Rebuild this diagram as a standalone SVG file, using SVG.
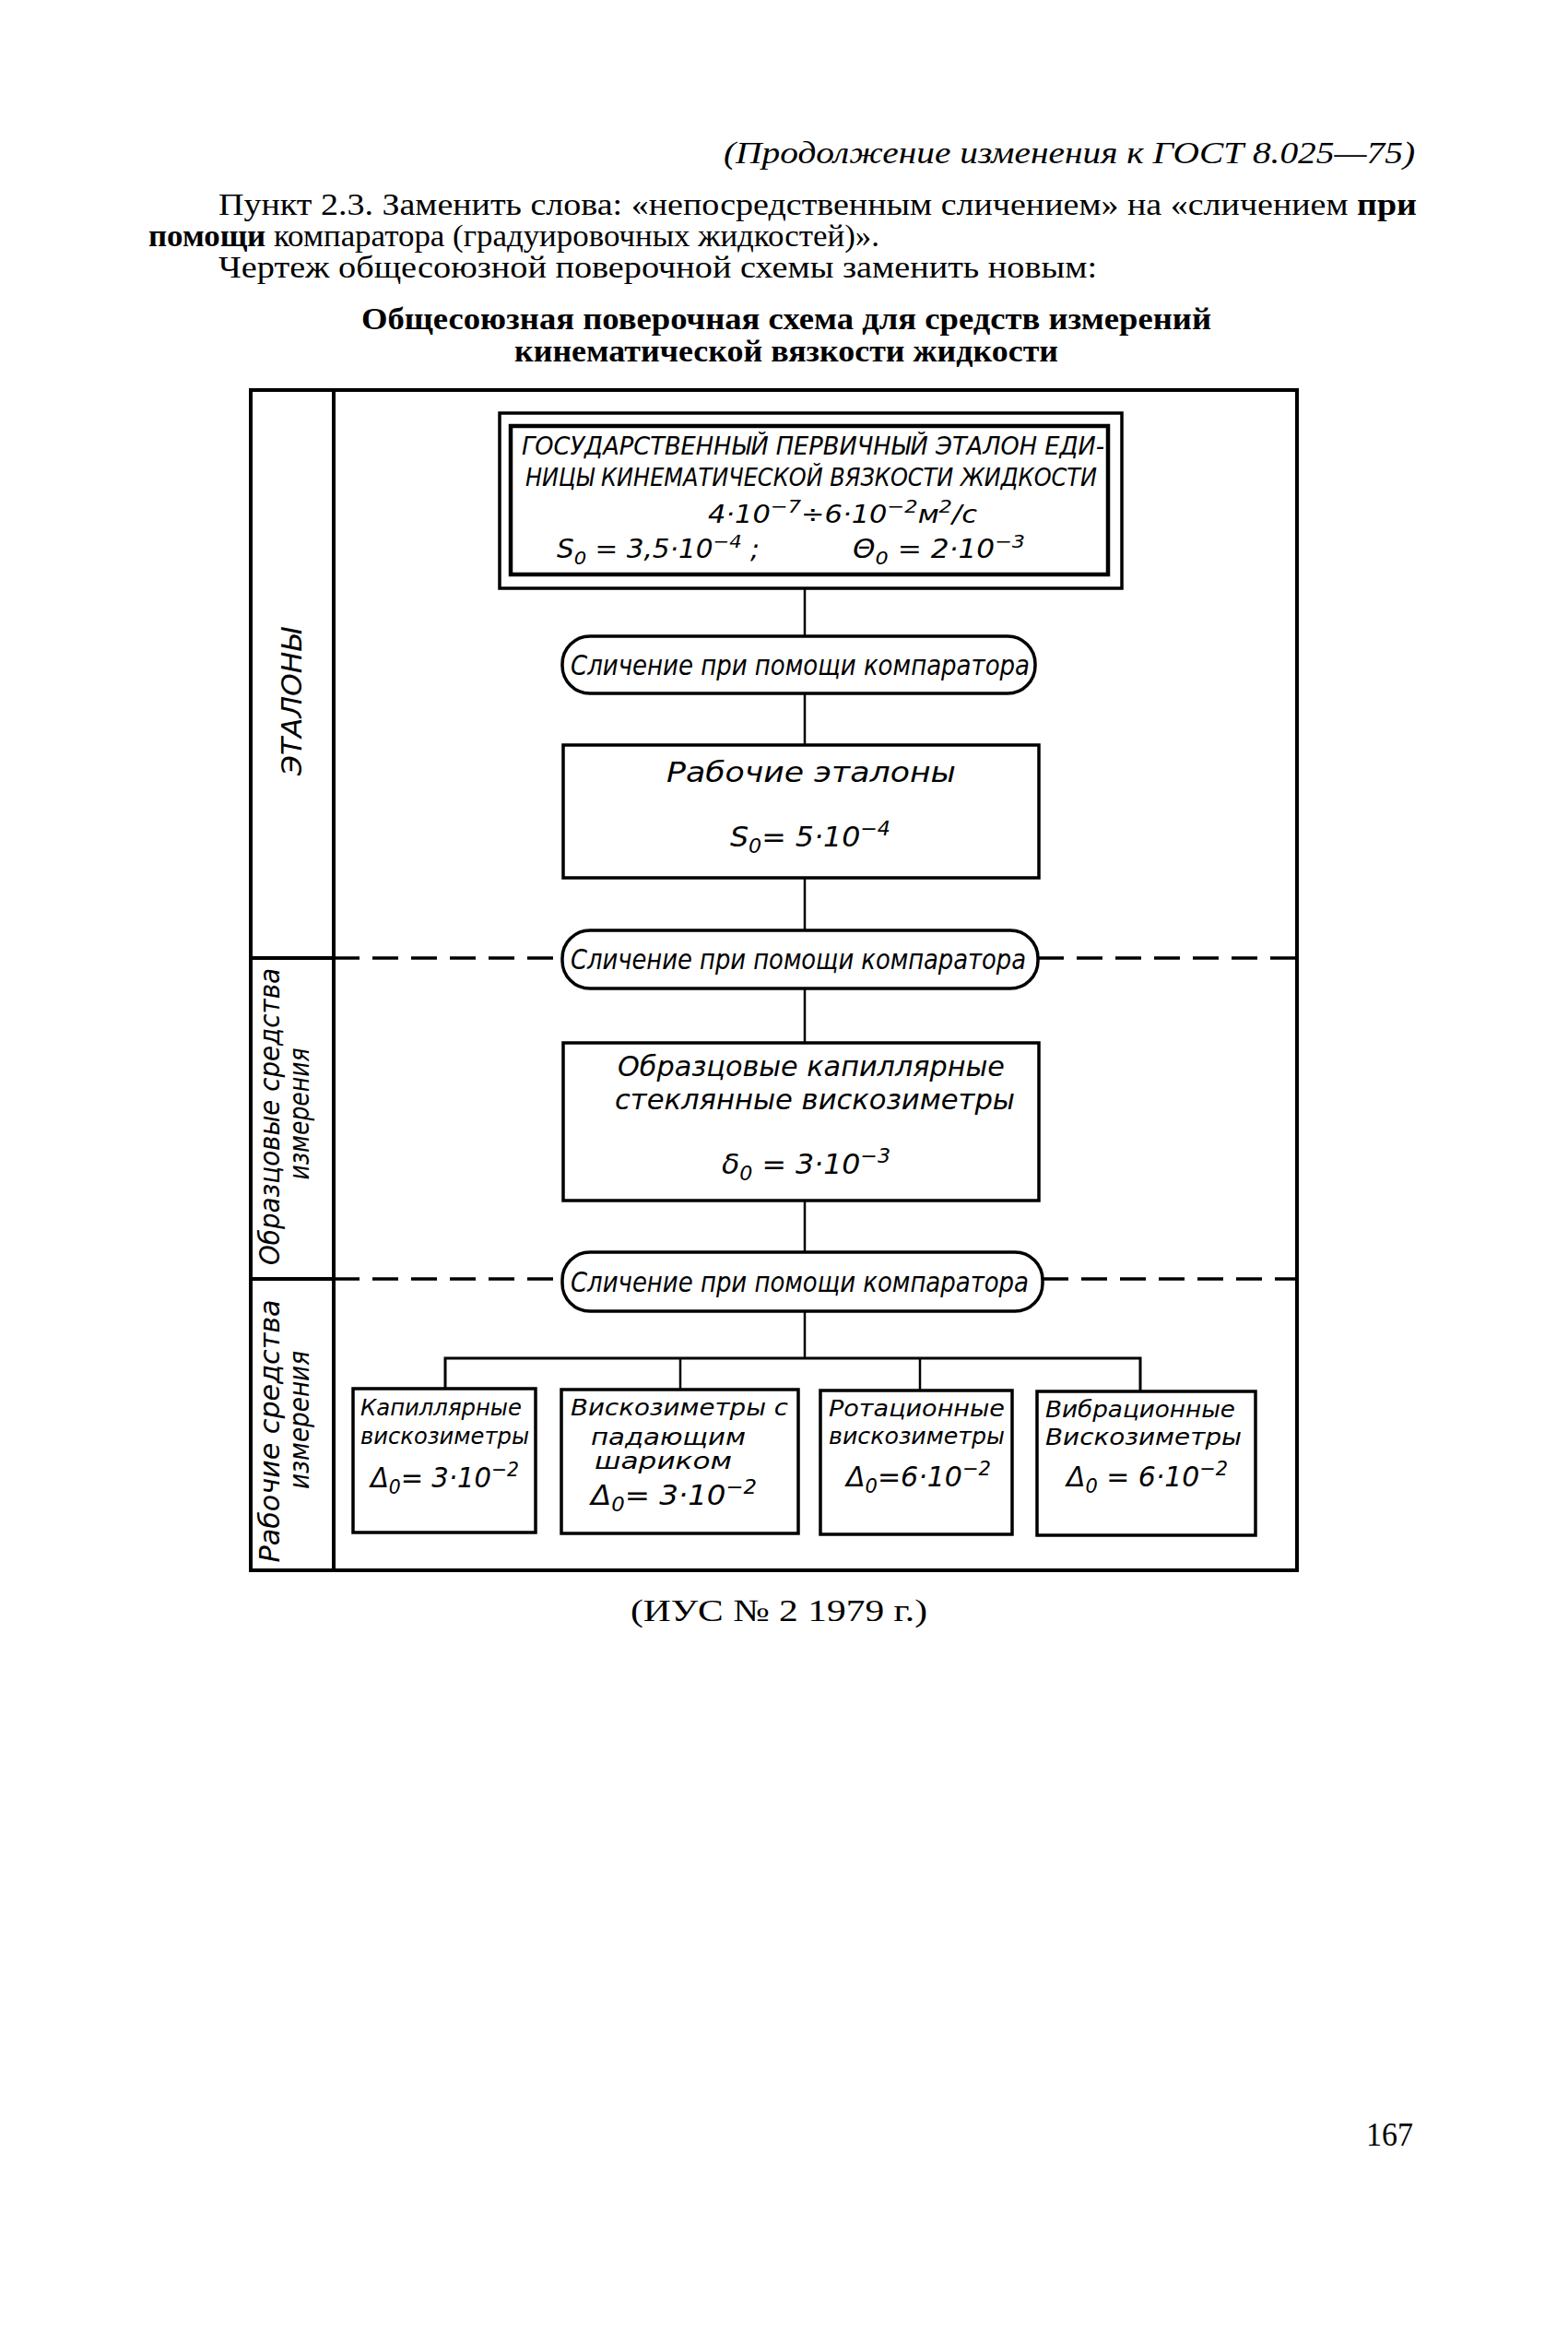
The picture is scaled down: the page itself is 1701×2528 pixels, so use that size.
<svg xmlns="http://www.w3.org/2000/svg" width="1701" height="2528" viewBox="0 0 1701 2528">
<style>
.bg{fill:#fff}
.d{font-family:"DejaVu Sans Condensed","DejaVu Sans",sans-serif;font-style:italic;fill:#000}
.s{font-family:"Liberation Serif","Times New Roman",serif;fill:#000}
.box{fill:#fff;stroke:#000;stroke-width:3.5}
.ln{fill:none;stroke:#000;stroke-width:2.5}
.fr{fill:none;stroke:#000;stroke-width:4}
.dash{fill:none;stroke:#000;stroke-width:3.5;stroke-dasharray:28 14}
</style>
<rect class="bg" x="0" y="0" width="1701" height="2528"/>

<g id="page-text">
<text class="s" x="785" y="177" font-size="34" font-style="italic" textLength="750" lengthAdjust="spacingAndGlyphs">(Продолжение изменения к ГОСТ 8.025—75)</text>
<text class="s" x="237" y="233" font-size="33" textLength="1300" lengthAdjust="spacingAndGlyphs">Пункт 2.3. Заменить слова: «непосредственным сличением» на «сличением <tspan font-weight="bold">при</tspan></text>
<text class="s" x="161" y="267" font-size="33" textLength="793" lengthAdjust="spacingAndGlyphs"><tspan font-weight="bold">помощи</tspan> компаратора (градуировочных жидкостей)».</text>
<text class="s" x="237" y="301" font-size="33" textLength="953" lengthAdjust="spacingAndGlyphs">Чертеж общесоюзной поверочной схемы заменить новым:</text>
<text class="s" x="392" y="357" font-size="34" font-weight="bold" textLength="922" lengthAdjust="spacingAndGlyphs">Общесоюзная поверочная схема для средств измерений</text>
<text class="s" x="558" y="392" font-size="34" font-weight="bold" textLength="590" lengthAdjust="spacingAndGlyphs">кинематической вязкости жидкости</text>
<text class="s" x="684" y="1758" font-size="34" textLength="322" lengthAdjust="spacingAndGlyphs">(ИУС № 2 1979 г.)</text>
<text class="s" x="1482" y="2327" font-size="36" textLength="51" lengthAdjust="spacingAndGlyphs">167</text>
</g>

<g id="frame">
<rect class="fr" x="272" y="423" width="1135" height="1280"/>
<line class="fr" x1="362" y1="423" x2="362" y2="1703"/>
<line class="fr" x1="272" y1="1039" x2="362" y2="1039"/>
<line class="fr" x1="272" y1="1387" x2="362" y2="1387"/>
<text class="d" transform="translate(327,761) rotate(-90)" text-anchor="middle" font-size="31" textLength="160" lengthAdjust="spacingAndGlyphs">ЭТАЛОНЫ</text>
<text class="d" transform="translate(303,1211) rotate(-90)" text-anchor="middle" font-size="30" textLength="322" lengthAdjust="spacingAndGlyphs">Образцовые средства</text>
<text class="d" transform="translate(335,1208) rotate(-90)" text-anchor="middle" font-size="30" textLength="143" lengthAdjust="spacingAndGlyphs">измерения</text>
<text class="d" transform="translate(303,1552) rotate(-90)" text-anchor="middle" font-size="30" textLength="285" lengthAdjust="spacingAndGlyphs">Рабочие средства</text>
<text class="d" transform="translate(335,1540) rotate(-90)" text-anchor="middle" font-size="30" textLength="150" lengthAdjust="spacingAndGlyphs">измерения</text>
</g>

<g id="connectors">
<line class="ln" x1="873" y1="638" x2="873" y2="690"/>
<line class="ln" x1="873" y1="752" x2="873" y2="808"/>
<line class="ln" x1="873" y1="952" x2="873" y2="1009"/>
<line class="ln" x1="873" y1="1072" x2="873" y2="1131"/>
<line class="ln" x1="873" y1="1302" x2="873" y2="1358"/>
<line class="ln" x1="873" y1="1422" x2="873" y2="1473"/>
<polyline class="ln" points="483,1506 483,1473 1237,1473 1237,1509" style="stroke-width:3"/>
<line class="ln" x1="738" y1="1473" x2="738" y2="1507"/>
<line class="ln" x1="998" y1="1473" x2="998" y2="1508"/>
<line class="dash" x1="362" y1="1039" x2="610" y2="1039"/>
<line class="dash" x1="1126" y1="1039" x2="1407" y2="1039"/>
<line class="dash" x1="362" y1="1387" x2="610" y2="1387"/>
<line class="dash" x1="1131" y1="1387" x2="1407" y2="1387"/>
</g>

<g id="node-primary">
<rect class="box" x="542" y="448" width="675" height="190"/>
<rect class="box" x="554" y="462" width="648" height="161" style="stroke-width:4.5"/>
<text class="d" x="566" y="493" font-size="27" textLength="632" lengthAdjust="spacingAndGlyphs">ГОСУДАРСТВЕННЫЙ ПЕРВИЧНЫЙ ЭТАЛОН ЕДИ-</text>
<text class="d" x="570" y="527" font-size="27" textLength="620" lengthAdjust="spacingAndGlyphs">НИЦЫ КИНЕМАТИЧЕСКОЙ ВЯЗКОСТИ ЖИДКОСТИ</text>
<text class="d" x="768" y="567" font-size="27" textLength="292" lengthAdjust="spacingAndGlyphs">4·10<tspan dy="-11" font-size="20">−7</tspan><tspan dy="11">÷6·10</tspan><tspan dy="-11" font-size="20">−2</tspan><tspan dy="11">м</tspan><tspan dy="-11" font-size="20">2</tspan><tspan dy="11">/с</tspan></text>
<text class="d" x="604" y="605" font-size="28" textLength="220" lengthAdjust="spacingAndGlyphs">S<tspan dy="7" font-size="20">0</tspan><tspan dy="-7"> = 3,5·10</tspan><tspan dy="-11" font-size="20">−4</tspan><tspan dy="11"> ;</tspan></text>
<text class="d" x="925" y="605" font-size="28" textLength="187" lengthAdjust="spacingAndGlyphs">Θ<tspan dy="7" font-size="20">0</tspan><tspan dy="-7"> = 2·10</tspan><tspan dy="-11" font-size="20">−3</tspan></text>
</g>

<g id="node-compare-1">
<rect class="box" x="610" y="690" width="513" height="62" rx="30" ry="30"/>
<text class="d" x="619" y="732" font-size="31" textLength="498" lengthAdjust="spacingAndGlyphs">Сличение при помощи компаратора</text>
</g>

<g id="node-working-standards">
<rect class="box" x="611" y="808" width="516" height="144"/>
<text class="d" x="723" y="848" font-size="30" textLength="314" lengthAdjust="spacingAndGlyphs">Рабочие   эталоны</text>
<text class="d" x="792" y="918" font-size="30" textLength="174" lengthAdjust="spacingAndGlyphs">S<tspan dy="7" font-size="21">0</tspan><tspan dy="-7">= 5·10</tspan><tspan dy="-12" font-size="21">−4</tspan></text>
</g>

<g id="node-compare-2">
<rect class="box" x="610" y="1009" width="516" height="63" rx="30" ry="30"/>
<text class="d" x="619" y="1051" font-size="31" textLength="494" lengthAdjust="spacingAndGlyphs">Сличение при помощи компаратора</text>
</g>

<g id="node-reference-viscometers">
<rect class="box" x="611" y="1131" width="516" height="171"/>
<text class="d" x="670" y="1167" font-size="30" textLength="420" lengthAdjust="spacingAndGlyphs">Образцовые  капиллярные</text>
<text class="d" x="667" y="1203" font-size="30" textLength="434" lengthAdjust="spacingAndGlyphs">стеклянные вискозиметры</text>
<text class="d" x="783" y="1273" font-size="30" textLength="183" lengthAdjust="spacingAndGlyphs">δ<tspan dy="7" font-size="21">0</tspan><tspan dy="-7"> = 3·10</tspan><tspan dy="-12" font-size="21">−3</tspan></text>
</g>

<g id="node-compare-3">
<rect class="box" x="610" y="1358" width="521" height="64" rx="30" ry="30"/>
<text class="d" x="619" y="1401" font-size="31" textLength="497" lengthAdjust="spacingAndGlyphs">Сличение при помощи компаратора</text>
</g>

<g id="node-capillary">
<rect class="box" x="383" y="1506" width="198" height="156"/>
<text class="d" x="391" y="1535" font-size="25" textLength="175" lengthAdjust="spacingAndGlyphs">Капиллярные</text>
<text class="d" x="391" y="1566" font-size="25" textLength="183" lengthAdjust="spacingAndGlyphs">вискозиметры</text>
<text class="d" x="402" y="1613" font-size="30" textLength="161" lengthAdjust="spacingAndGlyphs">Δ<tspan dy="7" font-size="21">0</tspan><tspan dy="-7">= 3·10</tspan><tspan dy="-12" font-size="21">−2</tspan></text>
</g>

<g id="node-falling-ball">
<rect class="box" x="609" y="1507" width="257" height="156"/>
<text class="d" x="619" y="1535" font-size="25" textLength="236" lengthAdjust="spacingAndGlyphs">Вискозиметры с</text>
<text class="d" x="641" y="1567" font-size="25" textLength="168" lengthAdjust="spacingAndGlyphs">падающим</text>
<text class="d" x="645" y="1593" font-size="25" textLength="149" lengthAdjust="spacingAndGlyphs">шариком</text>
<text class="d" x="641" y="1632" font-size="30" textLength="180" lengthAdjust="spacingAndGlyphs">Δ<tspan dy="7" font-size="21">0</tspan><tspan dy="-7">= 3·10</tspan><tspan dy="-12" font-size="21">−2</tspan></text>
</g>

<g id="node-rotational">
<rect class="box" x="890" y="1508" width="208" height="156"/>
<text class="d" x="899" y="1536" font-size="25" textLength="191" lengthAdjust="spacingAndGlyphs">Ротационные</text>
<text class="d" x="899" y="1566" font-size="25" textLength="191" lengthAdjust="spacingAndGlyphs">вискозиметры</text>
<text class="d" x="918" y="1612" font-size="30" textLength="157" lengthAdjust="spacingAndGlyphs">Δ<tspan dy="7" font-size="21">0</tspan><tspan dy="-7">=6·10</tspan><tspan dy="-12" font-size="21">−2</tspan></text>
</g>

<g id="node-vibrational">
<rect class="box" x="1125" y="1509" width="237" height="156"/>
<text class="d" x="1134" y="1537" font-size="25" textLength="206" lengthAdjust="spacingAndGlyphs">Вибрационные</text>
<text class="d" x="1134" y="1567" font-size="25" textLength="213" lengthAdjust="spacingAndGlyphs">Вискозиметры</text>
<text class="d" x="1157" y="1612" font-size="30" textLength="175" lengthAdjust="spacingAndGlyphs">Δ<tspan dy="7" font-size="21">0</tspan><tspan dy="-7"> = 6·10</tspan><tspan dy="-12" font-size="21">−2</tspan></text>
</g>
</svg>
